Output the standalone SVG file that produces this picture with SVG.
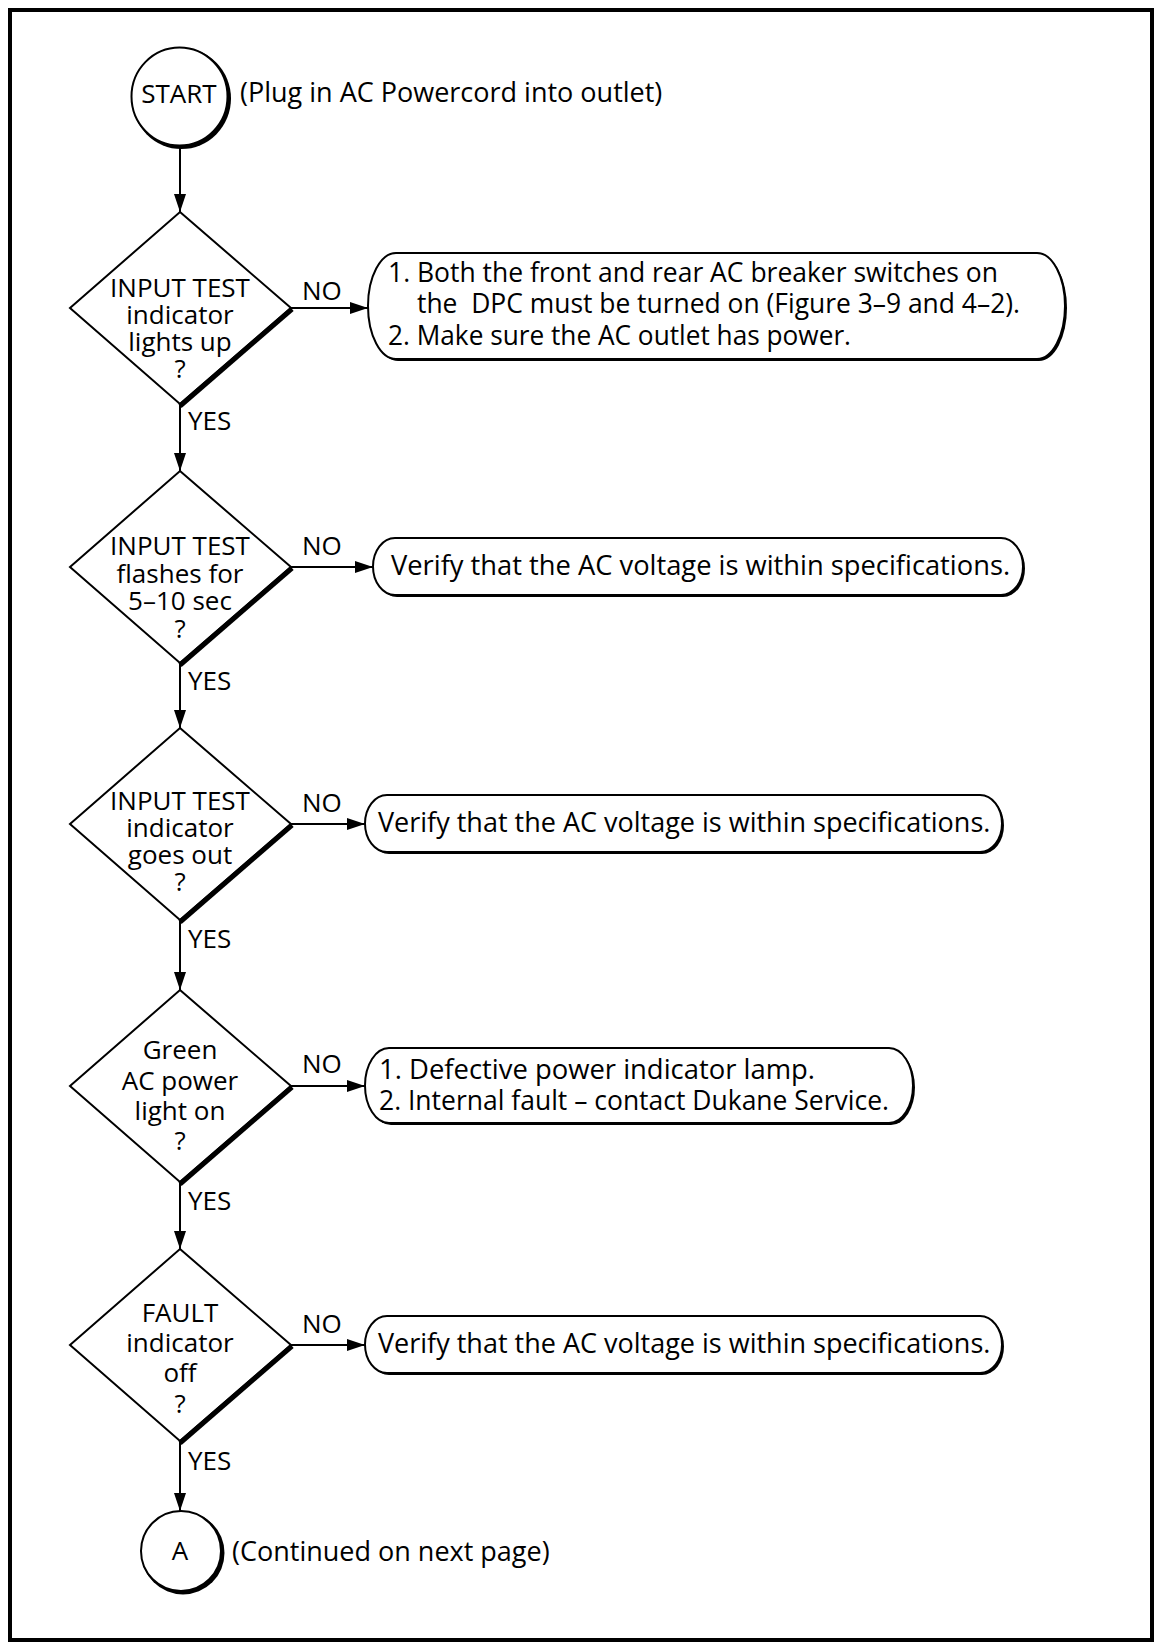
<svg xmlns="http://www.w3.org/2000/svg" width="1159" height="1648" viewBox="0 0 1159 1648">
<style>
text { font-family: "Open Sans","Noto Sans","DejaVu Sans",sans-serif; fill:#000; }
.d { font-size:26px; text-anchor:middle; }
.b { font-size:27px; }
.b2 { font-size:27.3px; }
.lbl { font-size:26px; }
.c { font-size:26px; text-anchor:middle; }
.shape { fill:#fff; stroke:#000; stroke-width:2; }
.shadow { fill:#000; }
.edge { stroke:#000; stroke-width:5; }
.conn { stroke:#000; stroke-width:2; fill:none; marker-end:url(#ah); }
</style>
<defs>
<marker id="ah" markerUnits="userSpaceOnUse" markerWidth="18" markerHeight="12" refX="18" refY="6" orient="auto"><path d="M0,0 L18,6 L0,12 z" fill="#000"/></marker>
</defs>
<rect x="0" y="0" width="1159" height="1648" fill="#fff"/>
<rect id="frame" x="10" y="10" width="1142" height="1630" fill="none" stroke="#000" stroke-width="4"/>

<g id="connectors">
<line class="conn" x1="180" y1="146" x2="180" y2="212"/>
<line class="conn" x1="180" y1="404" x2="180" y2="471"/>
<line class="conn" x1="180" y1="663" x2="180" y2="728"/>
<line class="conn" x1="180" y1="920" x2="180" y2="990"/>
<line class="conn" x1="180" y1="1182" x2="180" y2="1249"/>
<line class="conn" x1="180" y1="1441" x2="180" y2="1511"/>
<line class="conn" x1="291" y1="308" x2="368" y2="308"/>
<line class="conn" x1="291" y1="567" x2="373" y2="567"/>
<line class="conn" x1="291" y1="824" x2="365" y2="824"/>
<line class="conn" x1="291" y1="1086" x2="365" y2="1086"/>
<line class="conn" x1="291" y1="1345" x2="365" y2="1345"/>
<text class="lbl" x="302" y="300">NO</text>
<text class="lbl" x="302" y="555">NO</text>
<text class="lbl" x="302" y="812">NO</text>
<text class="lbl" x="302" y="1073">NO</text>
<text class="lbl" x="302" y="1333">NO</text>
<text class="lbl" x="188" y="430">YES</text>
<text class="lbl" x="188" y="690">YES</text>
<text class="lbl" x="188" y="948">YES</text>
<text class="lbl" x="188" y="1210">YES</text>
<text class="lbl" x="188" y="1470">YES</text>
</g>

<g id="start">
<ellipse class="shadow" cx="181.5" cy="98.5" rx="49.5" ry="50.5"/>
<ellipse class="shape" cx="179.5" cy="96.5" rx="48" ry="49"/>
<text class="c" x="179" y="103">START</text>
<text class="b" x="240" y="102">(Plug in AC Powercord into outlet)</text>
</g>

<g id="d1">
<polygon class="shape" points="180,212 291,308 180,404 70,308"/>
<line class="edge" x1="292" y1="309" x2="180" y2="406"/>
<text class="d" x="180" y="297">INPUT TEST</text>
<text class="d" x="180" y="324">indicator</text>
<text class="d" x="180" y="351">lights up</text>
<text class="d" x="180" y="378">?</text>
</g>

<g id="b1">
<rect class="shadow" x="370" y="255" width="697" height="106" rx="28" ry="53"/>
<rect class="shape" x="368" y="253" width="697" height="106" rx="28" ry="53"/>
<text class="b" x="388" y="282" textLength="610" lengthAdjust="spacingAndGlyphs">1. Both the front and rear AC breaker switches on</text>
<text class="b" x="417" y="313" xml:space="preserve" style="white-space:pre" textLength="603" lengthAdjust="spacingAndGlyphs">the  DPC must be turned on (Figure 3–9 and 4–2).</text>
<text class="b" x="388" y="345" textLength="463" lengthAdjust="spacingAndGlyphs">2. Make sure the AC outlet has power.</text>
</g>

<g id="d2">
<polygon class="shape" points="180,471 291,567 180,663 70,567"/>
<line class="edge" x1="292" y1="568" x2="180" y2="665"/>
<text class="d" x="180" y="555">INPUT TEST</text>
<text class="d" x="180" y="583">flashes for</text>
<text class="d" x="180" y="610">5–10 sec</text>
<text class="d" x="180" y="638">?</text>
</g>

<g id="b2">
<rect class="shadow" x="375" y="540" width="650" height="57" rx="22" ry="28.5"/>
<rect class="shape" x="373" y="538" width="650" height="57" rx="22" ry="28.5"/>
<text class="b2" x="391" y="575">Verify that the AC voltage is within specifications.</text>
</g>

<g id="d3">
<polygon class="shape" points="180,728 291,824 180,920 70,824"/>
<line class="edge" x1="292" y1="825" x2="180" y2="922"/>
<text class="d" x="180" y="810">INPUT TEST</text>
<text class="d" x="180" y="837">indicator</text>
<text class="d" x="180" y="864">goes out</text>
<text class="d" x="180" y="891">?</text>
</g>

<g id="b3">
<rect class="shadow" x="367" y="797" width="637" height="57" rx="22" ry="28.5"/>
<rect class="shape" x="365" y="795" width="637" height="57" rx="22" ry="28.5"/>
<text class="b" x="378" y="832">Verify that the AC voltage is within specifications.</text>
</g>

<g id="d4">
<polygon class="shape" points="180,990 291,1086 180,1182 70,1086"/>
<line class="edge" x1="292" y1="1087" x2="180" y2="1184"/>
<text class="d" x="180" y="1059">Green</text>
<text class="d" x="180" y="1090">AC power</text>
<text class="d" x="180" y="1120">light on</text>
<text class="d" x="180" y="1150">?</text>
</g>

<g id="b4">
<rect class="shadow" x="367" y="1050" width="548" height="75" rx="24" ry="37.5"/>
<rect class="shape" x="365" y="1048" width="548" height="75" rx="24" ry="37.5"/>
<text class="b" x="379" y="1079" textLength="436" lengthAdjust="spacingAndGlyphs">1. Defective power indicator lamp.</text>
<text class="b" x="379" y="1110" textLength="510" lengthAdjust="spacingAndGlyphs">2. Internal fault – contact Dukane Service.</text>
</g>

<g id="d5">
<polygon class="shape" points="180,1249 291,1345 180,1441 70,1345"/>
<line class="edge" x1="292" y1="1346" x2="180" y2="1443"/>
<text class="d" x="180" y="1322">FAULT</text>
<text class="d" x="180" y="1352">indicator</text>
<text class="d" x="180" y="1382">off</text>
<text class="d" x="180" y="1413">?</text>
</g>

<g id="b5">
<rect class="shadow" x="367" y="1318" width="637" height="57" rx="22" ry="28.5"/>
<rect class="shape" x="365" y="1316" width="637" height="57" rx="22" ry="28.5"/>
<text class="b" x="378" y="1353">Verify that the AC voltage is within specifications.</text>
</g>

<g id="a">
<ellipse class="shadow" cx="183" cy="1553" rx="41.5" ry="41.5"/>
<ellipse class="shape" cx="181" cy="1551" rx="40" ry="40"/>
<text class="c" x="180" y="1560">A</text>
<text class="b" x="232" y="1561">(Continued on next page)</text>
</g>
</svg>
